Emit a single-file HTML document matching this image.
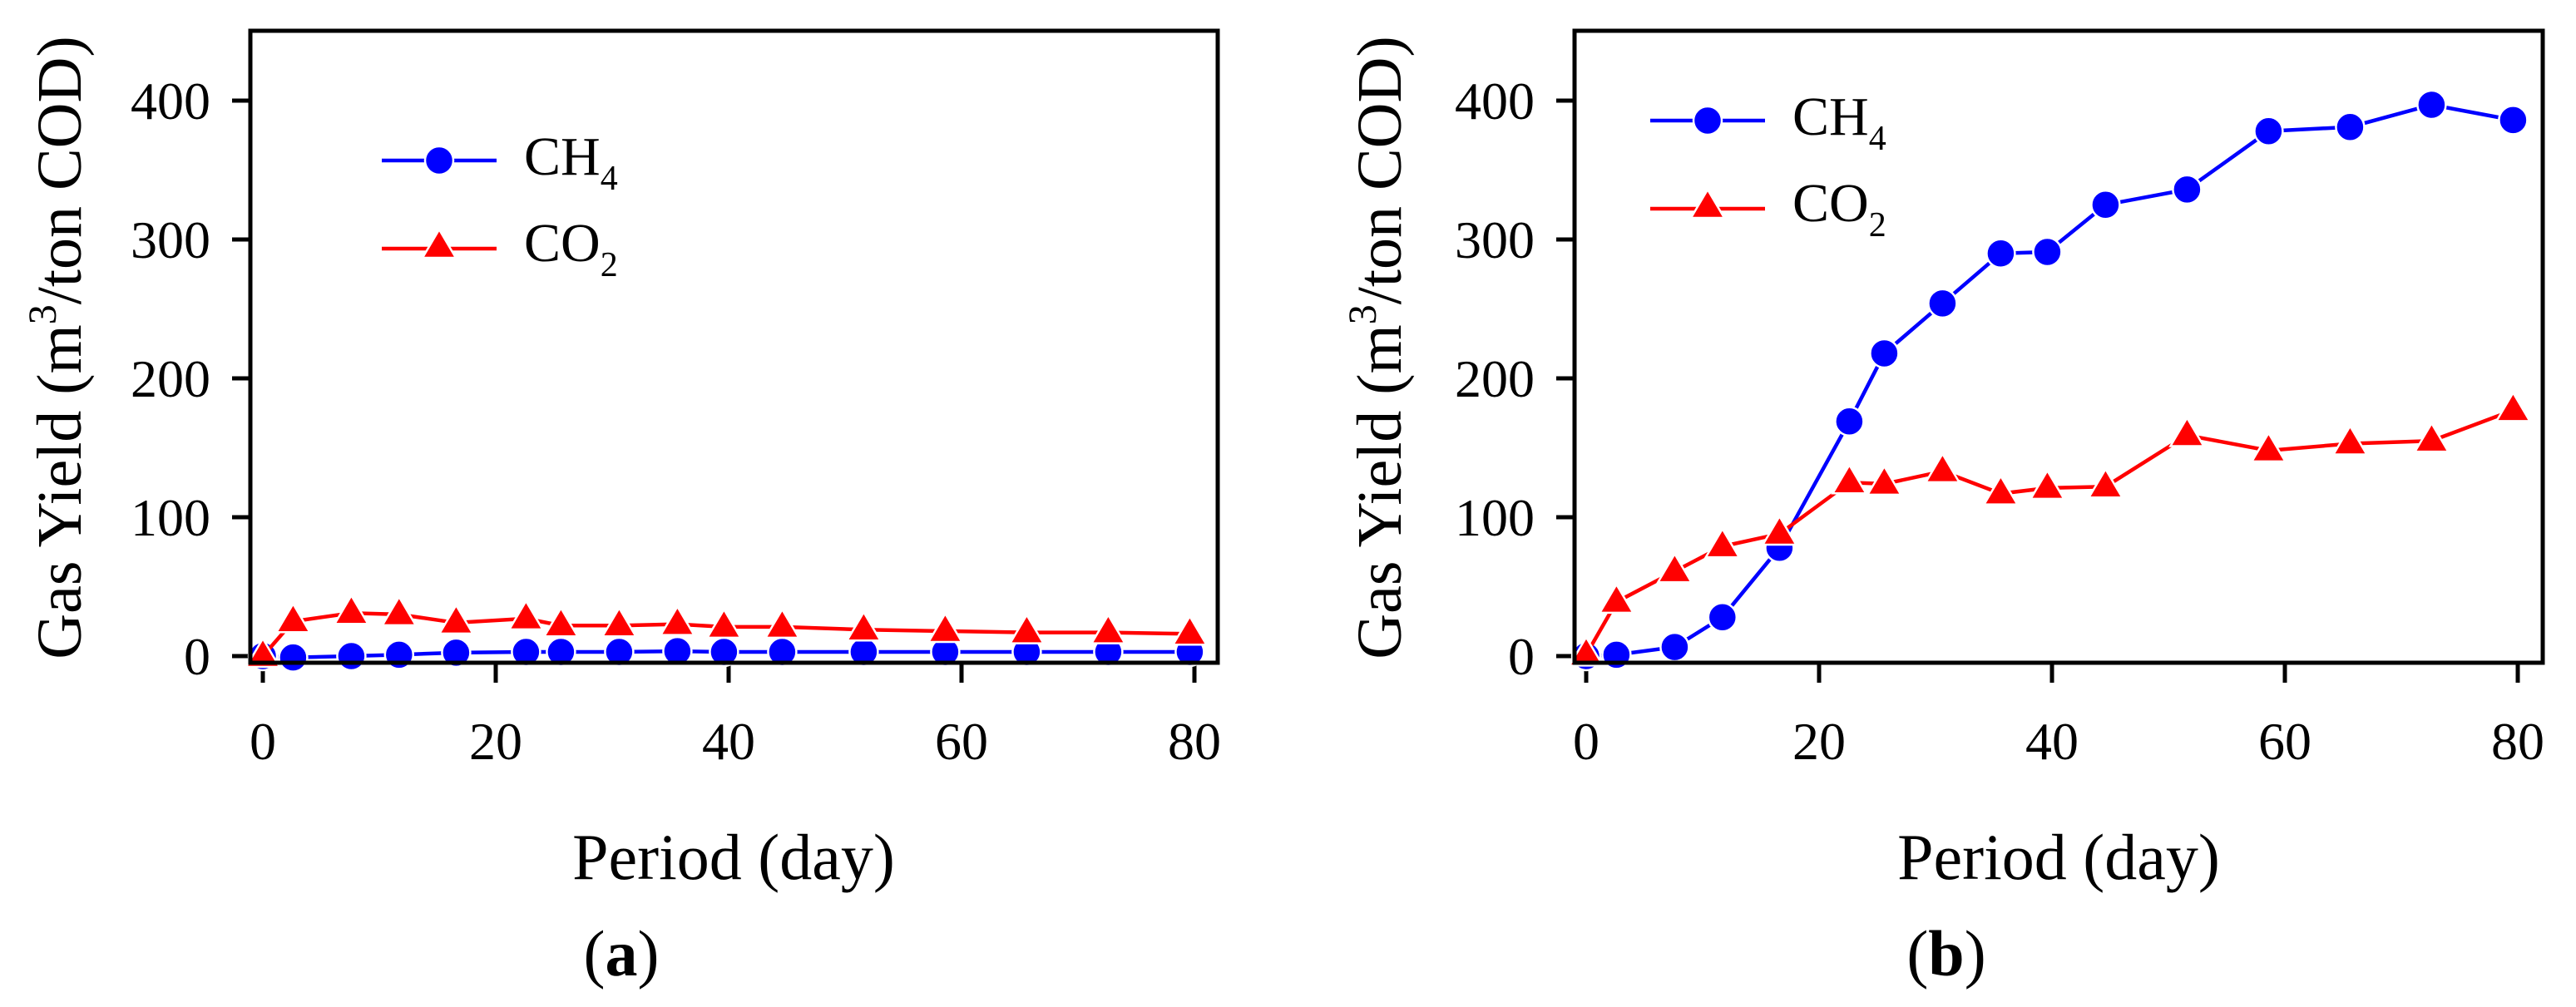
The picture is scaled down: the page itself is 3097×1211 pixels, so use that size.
<!DOCTYPE html>
<html><head><meta charset="utf-8"><style>
html,body{margin:0;padding:0;background:#fff}
svg{display:block}
text{font-family:"Liberation Serif",serif;fill:#000}
</style></head><body>
<svg id="chart" width="3097" height="1211" viewBox="0 0 3097 1211" xmlns="http://www.w3.org/2000/svg"></svg>
<script>
const xTicks = [0, 20, 40, 60, 80];
const yTicks = [0, 100, 200, 300, 400];
const daysA = [0, 2.6, 7.6, 11.7, 16.6, 22.6, 25.6, 30.6, 35.6, 39.6, 44.6, 51.6, 58.6, 65.6, 72.6, 79.6];
const ch4A = [0, -1, 0, 1, 2.5, 3, 3, 3, 3.5, 3, 3, 3, 3, 3, 3, 3];
const co2A = [0, 25, 31, 30, 24, 27, 22, 22, 23, 21, 21, 19, 18, 17, 17, 16];
const daysB = [0, 2.6, 7.6, 11.7, 16.6, 22.6, 25.6, 30.6, 35.6, 39.6, 44.6, 51.6, 58.6, 65.6, 72.6, 79.6];
const ch4B = [0, 1, 6.5, 28, 78, 169, 218, 254, 290, 291, 325, 336, 378, 381, 397, 386];
const co2B = [1, 39, 61, 79, 88, 125, 124, 133, 117, 121, 122, 159, 148, 153, 155, 177];

const NS = "http://www.w3.org/2000/svg";
const svg = document.getElementById('chart');
function mk(tag, attrs, parent) {
  const e = document.createElementNS(NS, tag);
  for (const k in attrs) e.setAttribute(k, attrs[k]);
  (parent || svg).appendChild(e);
  return e;
}
const yScale = v => 789 - 1.67 * v;

function panel(cfg) {
  const g = mk('g', {});
  
  
  const xScale = d => cfg.x0 + 14.0 * d;
  yTicks.forEach(v => {
    const t = mk('line', {x1: cfg.left - 22, x2: cfg.left, y1: yScale(v), y2: yScale(v), stroke: '#000', 'stroke-width': 5}, g);
    
    
    const l = mk('text', {x: cfg.left - 48, y: yScale(v) + 22, 'text-anchor': 'end', 'font-size': 64}, g);
    l.textContent = v;
    
    
  });
  xTicks.forEach(v => {
    const t = mk('line', {x1: xScale(v), x2: xScale(v), y1: 797, y2: 821, stroke: '#000', 'stroke-width': 5}, g);
    
    
    const l = mk('text', {x: xScale(v), y: 913, 'text-anchor': 'middle', 'font-size': 64}, g);
    l.textContent = v;
    
    
  });
  const pts = (ds, vs) => ds.map((d, i) => xScale(d) + ',' + yScale(vs[i])).join(' ');
  const l1 = mk('polyline', {points: pts(cfg.days, cfg.ch4), fill: 'none', stroke: '#0000ff', 'stroke-width': 4.5}, g);
  
  
  cfg.days.forEach((d, i) => {
    const c = mk('circle', {cx: xScale(d), cy: yScale(cfg.ch4[i]), r: 17, fill: '#0000ff', stroke: '#fff', 'stroke-width': 2.5}, g);
    
    
  });
  const l2 = mk('polyline', {points: pts(cfg.days, cfg.co2), fill: 'none', stroke: '#ff0000', 'stroke-width': 4.5}, g);
  
  
  const tri = (x, y) => `${x},${y-21} ${x+20},${y+13} ${x-20},${y+13}`;
  cfg.days.forEach((d, i) => {
    const p = mk('polygon', {points: tri(xScale(d), yScale(cfg.co2[i])), fill: '#ff0000', stroke: '#fff', 'stroke-width': 2.5}, g);
    
    
  });
  const fr = mk('rect', {x: cfg.left, y: 37, width: cfg.right - cfg.left, height: 760, fill: 'none', stroke: '#000', 'stroke-width': 5}, g);
  
  
  const lg = mk('g', {}, g);
  
  
  const ly1 = cfg.legY, ly2 = cfg.legY + 106;
  mk('line', {x1: cfg.legX, x2: cfg.legX + 138, y1: ly1, y2: ly1, stroke: '#0000ff', 'stroke-width': 4.5}, lg);
  mk('circle', {cx: cfg.legX + 69, cy: ly1, r: 17, fill: '#0000ff', stroke: '#fff', 'stroke-width': 2.5}, lg);
  mk('line', {x1: cfg.legX, x2: cfg.legX + 138, y1: ly2, y2: ly2, stroke: '#ff0000', 'stroke-width': 4.5}, lg);
  mk('polygon', {points: tri(cfg.legX + 69, ly2 - 2), fill: '#ff0000', stroke: '#fff', 'stroke-width': 2.5}, lg);
  const t1 = mk('text', {x: cfg.legX + 171, y: ly1 + 17, 'font-size': 66}, lg);
  t1.innerHTML = 'CH<tspan font-size="42" dy="18">4</tspan>';
  
  
  const t2 = mk('text', {x: cfg.legX + 171, y: ly2 + 15, 'font-size': 66}, lg);
  t2.innerHTML = 'CO<tspan font-size="42" dy="18">2</tspan>';
  
  
  const yt = mk('text', {transform: `translate(${cfg.ytX},418) rotate(-90)`, 'text-anchor': 'middle', 'font-size': 76}, g);
  yt.innerHTML = 'Gas Yield (m<tspan font-size="48" dy="-30">3</tspan><tspan dy="30">/ton COD)</tspan>';
  
  
  const xt = mk('text', {x: cfg.xtX, y: 1057, 'text-anchor': 'middle', 'font-size': 78}, g);
  xt.textContent = 'Period (day)';
  
  
  const pl = mk('text', {x: cfg.labX, y: 1173, 'text-anchor': 'middle', 'font-size': 78}, g);
  pl.innerHTML = '(<tspan font-weight="bold">' + cfg.id + '</tspan>)';
  
  
}
panel({id: 'a', left: 301, right: 1464, x0: 316, days: daysA, ch4: ch4A, co2: co2A, legX: 459, legY: 193, ytX: 97, xtX: 882, labX: 747});
panel({id: 'b', left: 1893, right: 3057, x0: 1907, days: daysB, ch4: ch4B, co2: co2B, legX: 1984, legY: 145, ytX: 1684, xtX: 2475, labX: 2340});
</script>
</body></html>
